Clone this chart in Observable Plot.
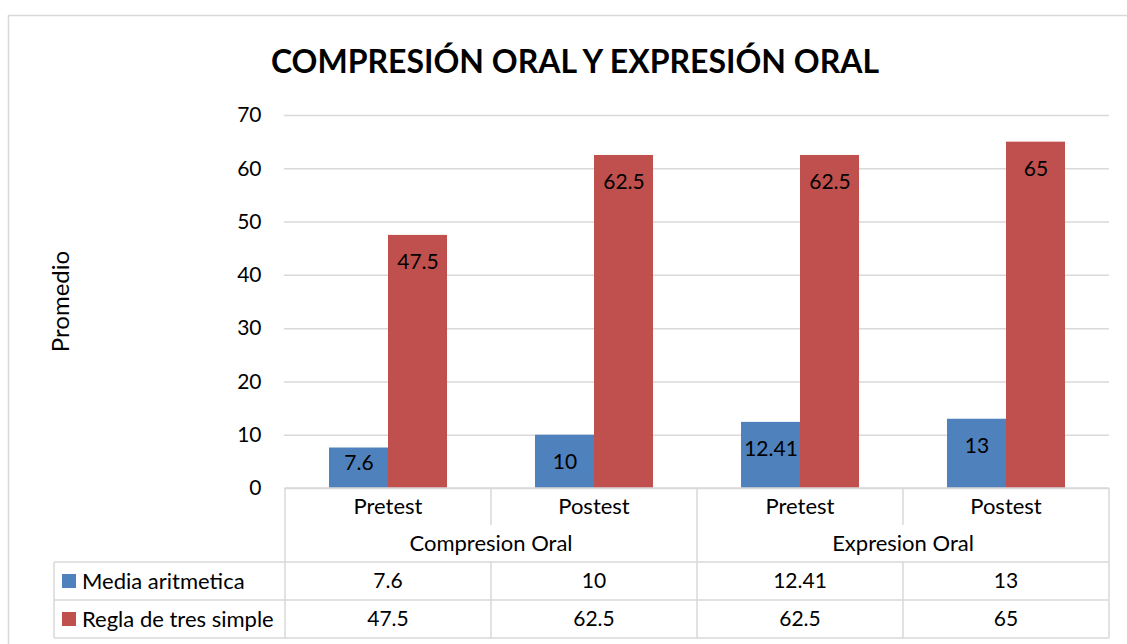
<!DOCTYPE html>
<html>
<head>
<meta charset="utf-8">
<script src="https://cdn.jsdelivr.net/npm/d3@7"></script>
<script src="https://cdn.jsdelivr.net/npm/@observablehq/plot@0.6"></script>
<style>
  html, body { margin: 0; padding: 0; background: #fff; }
  svg { display: block; }
</style>
</head>
<body>
<div id="chart"></div>
<script>
// ---- data ----
const title = "COMPRESIÓN ORAL Y EXPRESIÓN ORAL";
const yLabel = "Promedio";
const groups = ["Compresion Oral", "Compresion Oral", "Expresion Oral", "Expresion Oral"];
const phases = ["Pretest", "Postest", "Pretest", "Postest"];
const seriesNames = ["Media aritmetica", "Regla de tres simple"];
const media = [7.6, 10, 12.41, 13];
const regla = [47.5, 62.5, 62.5, 65];
const mediaLabels = ["7.6", "10", "12.41", "13"];
const reglaLabels = ["47.5", "62.5", "62.5", "65"];
const yTicks = [0, 10, 20, 30, 40, 50, 60, 70];

// ---- build table ----
const keys = groups.map((g, i) => g + "|" + phases[i]);
const rows = keys.map((k, i) => ({
  key: k, group: groups[i], phase: phases[i],
  media: media[i], regla: regla[i],
  mediaLabel: mediaLabels[i], reglaLabel: reglaLabels[i]
}));

const FONT = "Lato, Carlito, Calibri, 'Liberation Sans', sans-serif";
const BLUE = "#4F81BD", RED = "#C0504D", GRID = "#d9d9d9";
const NUM = 21, WORD = 22;

const plot = Plot.plot({
  width: 1127,
  height: 644,
  marginTop: 115,
  marginBottom: 156,
  marginLeft: 284,
  marginRight: 18,
  style: { fontFamily: FONT, background: "#fff", color: "#000", overflow: "visible" },
  x: { type: "band", domain: keys, padding: 0, axis: null },
  y: { domain: [0, 70], axis: null },
  marks: [
    Plot.gridY(yTicks, { stroke: GRID, strokeOpacity: 1, strokeWidth: 1.5 }),
    Plot.axisY(yTicks, { tickSize: 0, tickPadding: 23, fontSize: NUM, label: null }),
    Plot.barY(rows, { x: "key", y: "media", fill: BLUE, insetLeft: 44, insetRight: 103 }),
    Plot.barY(rows, { x: "key", y: "regla", fill: RED, insetLeft: 103, insetRight: 44 }),
    Plot.text(rows.filter(d => d.media >= 9), { x: "key", y: "media", text: "mediaLabel", dx: -29.5, dy: 27, fontSize: NUM, fill: "#000" }),
    Plot.text(rows.filter(d => d.media < 9), { x: "key", y: "media", text: "mediaLabel", dx: -29.5, dy: 15, fontSize: NUM, fill: "#000" }),
    Plot.text(rows, { x: "key", y: "regla", text: "reglaLabel", dx: 29.5, dy: 27, fontSize: NUM, fill: "#000" })
  ]
});

document.getElementById("chart").appendChild(plot);

// ---- extras drawn with the plot's scales ----
const svg = d3.select(plot);
const xs = plot.scale("x");
const ys = plot.scale("y");
const bw = xs.bandwidth;
const left = xs.apply(keys[0]);
const right = xs.apply(keys[keys.length - 1]) + bw;
const top0 = ys.apply(0);
const rowH = [37, 37, 38, 38];
const r1 = top0 + rowH[0], r2 = r1 + rowH[1], r3 = r2 + rowH[2], r4 = r3 + rowH[3];
const legendLeft = 54;

// outer chart border
svg.insert("rect", ":first-child")
  .attr("x", 8.5).attr("y", 15.5).attr("width", 1140).attr("height", 660)
  .attr("fill", "none").attr("stroke", GRID).attr("stroke-width", 1.5);

const g = svg.append("g").attr("stroke", GRID).attr("stroke-width", 1.5).attr("fill", "none");
const line = (x1, y1, x2, y2) => g.append("line").attr("x1", x1).attr("y1", y1).attr("x2", x2).attr("y2", y2);

// horizontal lines
line(left, top0, right, top0);
line(legendLeft, r2, right, r2);
line(legendLeft, r3, right, r3);
line(legendLeft, r4, right, r4);
// outer verticals
line(left, top0, left, r4);
line(right, top0, right, r4);
line(legendLeft, r2, legendLeft, r4);
// inner verticals
keys.forEach((k, i) => {
  if (i === 0) return;
  const x = xs.apply(k);
  if (groups[i] !== groups[i - 1]) {
    line(x, top0, x, r4);
  } else {
    line(x, top0, x, r1);
    line(x, r2, x, r4);
  }
});

const t = svg.append("g").attr("font-family", FONT).attr("fill", "#000").attr("text-anchor", "middle");
// phase row + value rows
rows.forEach(d => {
  const cx = xs.apply(d.key) + bw / 2;
  t.append("text").attr("x", cx).attr("y", (top0 + r1) / 2).attr("dy", "0.35em").attr("font-size", WORD).text(d.phase);
  t.append("text").attr("x", cx).attr("y", (r2 + r3) / 2).attr("dy", "0.35em").attr("font-size", NUM).text(d.mediaLabel);
  t.append("text").attr("x", cx).attr("y", (r3 + r4) / 2).attr("dy", "0.35em").attr("font-size", NUM).text(d.reglaLabel);
});
// group row
const uniqGroups = Array.from(new Set(groups));
uniqGroups.forEach(gr => {
  const ks = keys.filter((k, i) => groups[i] === gr);
  const x0 = xs.apply(ks[0]), x1 = xs.apply(ks[ks.length - 1]) + bw;
  t.append("text").attr("x", (x0 + x1) / 2).attr("y", (r1 + r2) / 2).attr("dy", "0.35em").attr("font-size", WORD).text(gr);
});
// legend column
[[seriesNames[0], BLUE, (r2 + r3) / 2], [seriesNames[1], RED, (r3 + r4) / 2]].forEach(([name, col, cy]) => {
  svg.append("rect").attr("x", 62).attr("y", cy - 7).attr("width", 14).attr("height", 14).attr("fill", col);
  svg.append("text").attr("x", 82).attr("y", cy).attr("dy", "0.35em")
    .attr("text-anchor", "start")
    .attr("font-family", FONT).attr("font-size", WORD).attr("fill", "#000").text(name);
});

// y-axis label
svg.append("text")
  .attr("transform", `translate(61, ${(ys.apply(0) + ys.apply(70)) / 2}) rotate(-90)`)
  .attr("text-anchor", "middle").attr("dy", "0.35em")
  .attr("font-family", FONT).attr("font-size", 24).attr("fill", "#000")
  .text(yLabel);

// title
svg.append("text")
  .attr("x", 575).attr("y", 73)
  .attr("text-anchor", "middle")
  .attr("font-family", FONT).attr("font-size", 32).attr("font-weight", "bold").attr("fill", "#000")
  .text(title);
</script>
</body>
</html>
